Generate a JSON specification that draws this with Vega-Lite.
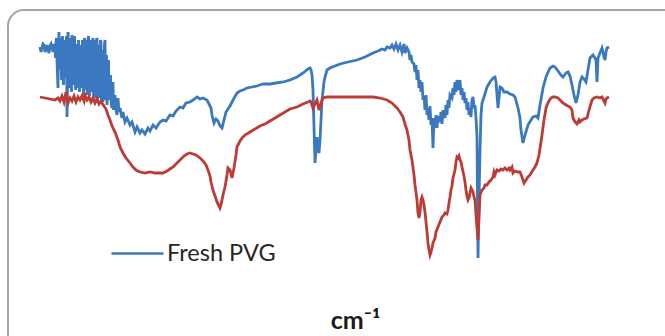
{
"$schema": "https://vega.github.io/schema/vega-lite/v6.json",
"width": 657, "height": 326,
"autosize": {"type": "none"},
"padding": {"left": 8, "top": 10, "right": 0, "bottom": 0},
"background": "white",
"config": {"view": {"stroke": null}, "axisX": {"zindex": 2, "title": "cm⁻¹", "domain": false, "ticks": false, "labels": false, "grid": false, "titlePadding": 0, "titleBaseline": "alphabetic", "titleFont": "Lato", "titleFontSize": 25, "titleFontWeight": "bold", "titleColor": "#1a1a1a", "titleX": 347, "titleY": -8, "titleAlign": "center"}},
"datasets": {
"frame": [{"name": "frame"}],
"spectra": [
{"series":"Fresh PVG","wn":4000,"T":60.6},{"series":"Fresh PVG","wn":3987.5,"T":60.4},{"series":"Fresh PVG","wn":3975,"T":61},{"series":"Fresh PVG","wn":3962.5,"T":60.2},{"series":"Fresh PVG","wn":3950,"T":60},{"series":"Fresh PVG","wn":3937.5,"T":60.8},{"series":"Fresh PVG","wn":3925,"T":60.4},{"series":"Fresh PVG","wn":3912.5,"T":61.2},{"series":"Fresh PVG","wn":3906.25,"T":60},{"series":"Fresh PVG","wn":3900,"T":61.6},{"series":"Fresh PVG","wn":3893.75,"T":58},{"series":"Fresh PVG","wn":3887.5,"T":52.4},{"series":"Fresh PVG","wn":3881.25,"T":63.6},{"series":"Fresh PVG","wn":3875,"T":60},{"series":"Fresh PVG","wn":3868.75,"T":62},{"series":"Fresh PVG","wn":3862.5,"T":61},{"series":"Fresh PVG","wn":3856.25,"T":58.4},{"series":"Fresh PVG","wn":3850,"T":59.6},{"series":"Fresh PVG","wn":3843.75,"T":56.4},{"series":"Fresh PVG","wn":3837.5,"T":60.4},{"series":"Fresh PVG","wn":3831.25,"T":46.6},{"series":"Fresh PVG","wn":3825,"T":63.6},{"series":"Fresh PVG","wn":3818.75,"T":58},{"series":"Fresh PVG","wn":3812.5,"T":52.4},{"series":"Fresh PVG","wn":3806.25,"T":60},{"series":"Fresh PVG","wn":3800,"T":63},{"series":"Fresh PVG","wn":3793.75,"T":57.6},{"series":"Fresh PVG","wn":3787.5,"T":60.4},{"series":"Fresh PVG","wn":3781.25,"T":58.4},{"series":"Fresh PVG","wn":3775,"T":55.6},{"series":"Fresh PVG","wn":3768.75,"T":60},{"series":"Fresh PVG","wn":3762.5,"T":52.4},{"series":"Fresh PVG","wn":3756.25,"T":57.6},{"series":"Fresh PVG","wn":3750,"T":58.4},{"series":"Fresh PVG","wn":3743.75,"T":55},{"series":"Fresh PVG","wn":3737.5,"T":56.4},{"series":"Fresh PVG","wn":3731.25,"T":59},{"series":"Fresh PVG","wn":3718.75,"T":61.6},{"series":"Fresh PVG","wn":3712.5,"T":56},{"series":"Fresh PVG","wn":3706.25,"T":53},{"series":"Fresh PVG","wn":3700,"T":62},{"series":"Fresh PVG","wn":3693.75,"T":57},{"series":"Fresh PVG","wn":3687.5,"T":58},{"series":"Fresh PVG","wn":3681.25,"T":51.6},{"series":"Fresh PVG","wn":3675,"T":59},{"series":"Fresh PVG","wn":3668.75,"T":62.4},{"series":"Fresh PVG","wn":3662.5,"T":56},{"series":"Fresh PVG","wn":3656.25,"T":50.4},{"series":"Fresh PVG","wn":3650,"T":58},{"series":"Fresh PVG","wn":3643.75,"T":62.4},{"series":"Fresh PVG","wn":3637.5,"T":55.6},{"series":"Fresh PVG","wn":3631.25,"T":50.4},{"series":"Fresh PVG","wn":3625,"T":58},{"series":"Fresh PVG","wn":3618.75,"T":61.6},{"series":"Fresh PVG","wn":3612.5,"T":55},{"series":"Fresh PVG","wn":3606.25,"T":49.6},{"series":"Fresh PVG","wn":3600,"T":57},{"series":"Fresh PVG","wn":3593.75,"T":62},{"series":"Fresh PVG","wn":3587.5,"T":54},{"series":"Fresh PVG","wn":3581.25,"T":49},{"series":"Fresh PVG","wn":3575,"T":55.6},{"series":"Fresh PVG","wn":3568.75,"T":52},{"series":"Fresh PVG","wn":3562.5,"T":54},{"series":"Fresh PVG","wn":3556.25,"T":50},{"series":"Fresh PVG","wn":3550,"T":48.4},{"series":"Fresh PVG","wn":3543.75,"T":53.6},{"series":"Fresh PVG","wn":3537.5,"T":50},{"series":"Fresh PVG","wn":3531.25,"T":51},{"series":"Fresh PVG","wn":3525,"T":48},{"series":"Fresh PVG","wn":3518.75,"T":47},{"series":"Fresh PVG","wn":3512.5,"T":50.4},{"series":"Fresh PVG","wn":3506.25,"T":47.6},{"series":"Fresh PVG","wn":3500,"T":48.4},{"series":"Fresh PVG","wn":3487.5,"T":46.4},{"series":"Fresh PVG","wn":3481.25,"T":47.6},{"series":"Fresh PVG","wn":3468.75,"T":45.6},{"series":"Fresh PVG","wn":3456.25,"T":46.4},{"series":"Fresh PVG","wn":3437.5,"T":45},{"series":"Fresh PVG","wn":3425,"T":45.6},{"series":"Fresh PVG","wn":3406.25,"T":43.6},{"series":"Fresh PVG","wn":3393.75,"T":44.6},{"series":"Fresh PVG","wn":3375,"T":43.4},{"series":"Fresh PVG","wn":3362.5,"T":44},{"series":"Fresh PVG","wn":3343.75,"T":43.2},{"series":"Fresh PVG","wn":3325,"T":44.4},{"series":"Fresh PVG","wn":3312.5,"T":43.8},{"series":"Fresh PVG","wn":3293.75,"T":45},{"series":"Fresh PVG","wn":3275,"T":44.4},{"series":"Fresh PVG","wn":3250,"T":45.6},{"series":"Fresh PVG","wn":3231.25,"T":46},{"series":"Fresh PVG","wn":3212.5,"T":45.8},{"series":"Fresh PVG","wn":3187.5,"T":47},{"series":"Fresh PVG","wn":3168.75,"T":46.8},{"series":"Fresh PVG","wn":3150,"T":47.8},{"series":"Fresh PVG","wn":3125,"T":48.6},{"series":"Fresh PVG","wn":3106.25,"T":48.4},{"series":"Fresh PVG","wn":3087.5,"T":49.4},{"series":"Fresh PVG","wn":3062.5,"T":49.6},{"series":"Fresh PVG","wn":3043.75,"T":50},{"series":"Fresh PVG","wn":3018.75,"T":50.6},{"series":"Fresh PVG","wn":3000,"T":50.2},{"series":"Fresh PVG","wn":2981.25,"T":50.4},{"series":"Fresh PVG","wn":2956.25,"T":50},{"series":"Fresh PVG","wn":2943.75,"T":49.2},{"series":"Fresh PVG","wn":2931.25,"T":48.4},{"series":"Fresh PVG","wn":2925,"T":47},{"series":"Fresh PVG","wn":2912.5,"T":45.4},{"series":"Fresh PVG","wn":2900,"T":46.2},{"series":"Fresh PVG","wn":2887.5,"T":45.8},{"series":"Fresh PVG","wn":2875,"T":44.8},{"series":"Fresh PVG","wn":2862.5,"T":44.4},{"series":"Fresh PVG","wn":2850,"T":46},{"series":"Fresh PVG","wn":2837.5,"T":47.6},{"series":"Fresh PVG","wn":2825,"T":48.2},{"series":"Fresh PVG","wn":2812.5,"T":48.8},{"series":"Fresh PVG","wn":2793.75,"T":50},{"series":"Fresh PVG","wn":2768.75,"T":51.4},{"series":"Fresh PVG","wn":2750,"T":51.8},{"series":"Fresh PVG","wn":2731.25,"T":52},{"series":"Fresh PVG","wn":2706.25,"T":52.4},{"series":"Fresh PVG","wn":2675,"T":52.6},{"series":"Fresh PVG","wn":2643.75,"T":52.8},{"series":"Fresh PVG","wn":2606.25,"T":53.2},{"series":"Fresh PVG","wn":2562.5,"T":53.2},{"series":"Fresh PVG","wn":2525,"T":53.4},{"series":"Fresh PVG","wn":2481.25,"T":53.6},{"series":"Fresh PVG","wn":2437.5,"T":54},{"series":"Fresh PVG","wn":2393.75,"T":54.6},{"series":"Fresh PVG","wn":2356.25,"T":55.4},{"series":"Fresh PVG","wn":2325,"T":56.2},{"series":"Fresh PVG","wn":2312.5,"T":56.4},{"series":"Fresh PVG","wn":2306.25,"T":56},{"series":"Fresh PVG","wn":2300,"T":55},{"series":"Fresh PVG","wn":2293.75,"T":52},{"series":"Fresh PVG","wn":2287.5,"T":44.6},{"series":"Fresh PVG","wn":2281.25,"T":37.4},{"series":"Fresh PVG","wn":2275,"T":40},{"series":"Fresh PVG","wn":2268.75,"T":42.6},{"series":"Fresh PVG","wn":2262.5,"T":40},{"series":"Fresh PVG","wn":2256.25,"T":39.4},{"series":"Fresh PVG","wn":2250,"T":42},{"series":"Fresh PVG","wn":2243.75,"T":46},{"series":"Fresh PVG","wn":2237.5,"T":50},{"series":"Fresh PVG","wn":2225,"T":53.6},{"series":"Fresh PVG","wn":2218.75,"T":54.6},{"series":"Fresh PVG","wn":2206.25,"T":56},{"series":"Fresh PVG","wn":2187.5,"T":56.4},{"series":"Fresh PVG","wn":2156.25,"T":56.8},{"series":"Fresh PVG","wn":2125,"T":57.2},{"series":"Fresh PVG","wn":2075,"T":57.6},{"series":"Fresh PVG","wn":2018.75,"T":58},{"series":"Fresh PVG","wn":1968.75,"T":58.6},{"series":"Fresh PVG","wn":1918.75,"T":59.4},{"series":"Fresh PVG","wn":1887.5,"T":59.8},{"series":"Fresh PVG","wn":1862.5,"T":60.2},{"series":"Fresh PVG","wn":1843.75,"T":60},{"series":"Fresh PVG","wn":1831.25,"T":60.6},{"series":"Fresh PVG","wn":1812.5,"T":60.4},{"series":"Fresh PVG","wn":1800,"T":61},{"series":"Fresh PVG","wn":1787.5,"T":60.2},{"series":"Fresh PVG","wn":1775,"T":61.2},{"series":"Fresh PVG","wn":1762.5,"T":60},{"series":"Fresh PVG","wn":1750,"T":61},{"series":"Fresh PVG","wn":1737.5,"T":59.6},{"series":"Fresh PVG","wn":1725,"T":61.2},{"series":"Fresh PVG","wn":1718.75,"T":59.4},{"series":"Fresh PVG","wn":1706.25,"T":60.4},{"series":"Fresh PVG","wn":1693.75,"T":59.6},{"series":"Fresh PVG","wn":1687.5,"T":58},{"series":"Fresh PVG","wn":1681.25,"T":59},{"series":"Fresh PVG","wn":1675,"T":57.6},{"series":"Fresh PVG","wn":1662.5,"T":57.2},{"series":"Fresh PVG","wn":1656.25,"T":55.6},{"series":"Fresh PVG","wn":1650,"T":57},{"series":"Fresh PVG","wn":1643.75,"T":54},{"series":"Fresh PVG","wn":1637.5,"T":56},{"series":"Fresh PVG","wn":1631.25,"T":52.4},{"series":"Fresh PVG","wn":1625,"T":54},{"series":"Fresh PVG","wn":1618.75,"T":51.6},{"series":"Fresh PVG","wn":1612.5,"T":53.6},{"series":"Fresh PVG","wn":1606.25,"T":50},{"series":"Fresh PVG","wn":1600,"T":50.8},{"series":"Fresh PVG","wn":1593.75,"T":48},{"series":"Fresh PVG","wn":1587.5,"T":51},{"series":"Fresh PVG","wn":1581.25,"T":47},{"series":"Fresh PVG","wn":1575,"T":48.4},{"series":"Fresh PVG","wn":1568.75,"T":46},{"series":"Fresh PVG","wn":1562.5,"T":48.8},{"series":"Fresh PVG","wn":1556.25,"T":45},{"series":"Fresh PVG","wn":1550,"T":46.4},{"series":"Fresh PVG","wn":1543.75,"T":40.4},{"series":"Fresh PVG","wn":1537.5,"T":46.4},{"series":"Fresh PVG","wn":1531.25,"T":44.4},{"series":"Fresh PVG","wn":1525,"T":47},{"series":"Fresh PVG","wn":1518.75,"T":44.4},{"series":"Fresh PVG","wn":1512.5,"T":46.8},{"series":"Fresh PVG","wn":1500,"T":45.6},{"series":"Fresh PVG","wn":1493.75,"T":47.6},{"series":"Fresh PVG","wn":1487.5,"T":45.2},{"series":"Fresh PVG","wn":1481.25,"T":48},{"series":"Fresh PVG","wn":1468.75,"T":46.4},{"series":"Fresh PVG","wn":1462.5,"T":49},{"series":"Fresh PVG","wn":1456.25,"T":47},{"series":"Fresh PVG","wn":1450,"T":50},{"series":"Fresh PVG","wn":1443.75,"T":48.4},{"series":"Fresh PVG","wn":1437.5,"T":51},{"series":"Fresh PVG","wn":1425,"T":50.4},{"series":"Fresh PVG","wn":1418.75,"T":52.4},{"series":"Fresh PVG","wn":1412.5,"T":51},{"series":"Fresh PVG","wn":1406.25,"T":53.6},{"series":"Fresh PVG","wn":1400,"T":51.6},{"series":"Fresh PVG","wn":1393.75,"T":54},{"series":"Fresh PVG","wn":1387.5,"T":53},{"series":"Fresh PVG","wn":1381.25,"T":52},{"series":"Fresh PVG","wn":1375,"T":54},{"series":"Fresh PVG","wn":1368.75,"T":51},{"series":"Fresh PVG","wn":1362.5,"T":52.4},{"series":"Fresh PVG","wn":1356.25,"T":50},{"series":"Fresh PVG","wn":1350,"T":51.6},{"series":"Fresh PVG","wn":1343.75,"T":49.4},{"series":"Fresh PVG","wn":1337.5,"T":50.4},{"series":"Fresh PVG","wn":1331.25,"T":48},{"series":"Fresh PVG","wn":1325,"T":49.6},{"series":"Fresh PVG","wn":1318.75,"T":47},{"series":"Fresh PVG","wn":1312.5,"T":48.4},{"series":"Fresh PVG","wn":1306.25,"T":46.6},{"series":"Fresh PVG","wn":1300,"T":50},{"series":"Fresh PVG","wn":1293.75,"T":50.6},{"series":"Fresh PVG","wn":1287.5,"T":48.4},{"series":"Fresh PVG","wn":1281.25,"T":49},{"series":"Fresh PVG","wn":1275,"T":46.4},{"series":"Fresh PVG","wn":1268.75,"T":42.6},{"series":"Fresh PVG","wn":1262.5,"T":18.4},{"series":"Fresh PVG","wn":1256.25,"T":30},{"series":"Fresh PVG","wn":1250,"T":40},{"series":"Fresh PVG","wn":1243.75,"T":47},{"series":"Fresh PVG","wn":1237.5,"T":49.4},{"series":"Fresh PVG","wn":1225,"T":50.6},{"series":"Fresh PVG","wn":1206.25,"T":52.6},{"series":"Fresh PVG","wn":1187.5,"T":53.6},{"series":"Fresh PVG","wn":1168.75,"T":54.4},{"series":"Fresh PVG","wn":1156.25,"T":54.6},{"series":"Fresh PVG","wn":1150,"T":53.6},{"series":"Fresh PVG","wn":1143.75,"T":51},{"series":"Fresh PVG","wn":1137.5,"T":48.4},{"series":"Fresh PVG","wn":1131.25,"T":50.4},{"series":"Fresh PVG","wn":1125,"T":52.6},{"series":"Fresh PVG","wn":1112.5,"T":52.4},{"series":"Fresh PVG","wn":1100,"T":51.6},{"series":"Fresh PVG","wn":1081.25,"T":51.6},{"series":"Fresh PVG","wn":1062.5,"T":51.2},{"series":"Fresh PVG","wn":1043.75,"T":51},{"series":"Fresh PVG","wn":1031.25,"T":50.6},{"series":"Fresh PVG","wn":1012.5,"T":48.4},{"series":"Fresh PVG","wn":1000,"T":46.4},{"series":"Fresh PVG","wn":993.75,"T":44},{"series":"Fresh PVG","wn":981.25,"T":41.4},{"series":"Fresh PVG","wn":968.75,"T":43},{"series":"Fresh PVG","wn":950,"T":45},{"series":"Fresh PVG","wn":931.25,"T":46},{"series":"Fresh PVG","wn":918.75,"T":46.6},{"series":"Fresh PVG","wn":900,"T":46.8},{"series":"Fresh PVG","wn":887.5,"T":46.4},{"series":"Fresh PVG","wn":875,"T":49},{"series":"Fresh PVG","wn":856.25,"T":52.4},{"series":"Fresh PVG","wn":837.5,"T":54.6},{"series":"Fresh PVG","wn":812.5,"T":56.4},{"series":"Fresh PVG","wn":793.75,"T":56.8},{"series":"Fresh PVG","wn":781.25,"T":56.6},{"series":"Fresh PVG","wn":762.5,"T":55.8},{"series":"Fresh PVG","wn":743.75,"T":55},{"series":"Fresh PVG","wn":731.25,"T":54.6},{"series":"Fresh PVG","wn":712.5,"T":55.4},{"series":"Fresh PVG","wn":700,"T":55.6},{"series":"Fresh PVG","wn":687.5,"T":54.8},{"series":"Fresh PVG","wn":675,"T":53},{"series":"Fresh PVG","wn":662.5,"T":51},{"series":"Fresh PVG","wn":650,"T":49.4},{"series":"Fresh PVG","wn":637.5,"T":51},{"series":"Fresh PVG","wn":625,"T":53.6},{"series":"Fresh PVG","wn":612.5,"T":54.6},{"series":"Fresh PVG","wn":600,"T":54.2},{"series":"Fresh PVG","wn":587.5,"T":53.6},{"series":"Fresh PVG","wn":575,"T":56},{"series":"Fresh PVG","wn":562.5,"T":58.4},{"series":"Fresh PVG","wn":550,"T":58.8},{"series":"Fresh PVG","wn":543.75,"T":59},{"series":"Fresh PVG","wn":531.25,"T":58.4},{"series":"Fresh PVG","wn":525,"T":58},{"series":"Fresh PVG","wn":518.75,"T":53.6},{"series":"Fresh PVG","wn":512.5,"T":58.4},{"series":"Fresh PVG","wn":500,"T":59.4},{"series":"Fresh PVG","wn":487.5,"T":60.4},{"series":"Fresh PVG","wn":481.25,"T":59.6},{"series":"Fresh PVG","wn":475,"T":58.6},{"series":"Fresh PVG","wn":468.75,"T":58},{"series":"Fresh PVG","wn":462.5,"T":59.6},{"series":"Fresh PVG","wn":456.25,"T":60.4},{"series":"Fresh PVG","wn":443.75,"T":60.6},
{"series":"Fresh PVG","wn":3993.75,"T":59.6},{"series":"Fresh PVG","wn":3981.25,"T":61.2},{"series":"Fresh PVG","wn":3968.75,"T":59.6},{"series":"Fresh PVG","wn":3956.25,"T":61},{"series":"Fresh PVG","wn":3943.75,"T":59.4},{"series":"Fresh PVG","wn":3931.25,"T":61.2},{"series":"Fresh PVG","wn":3918.75,"T":59.6},
{"series":"Fresh PVG","wn":3903.125,"T":58.4},{"series":"Fresh PVG","wn":3896.875,"T":62.4},{"series":"Fresh PVG","wn":3890.625,"T":55},{"series":"Fresh PVG","wn":3884.375,"T":61},{"series":"Fresh PVG","wn":3878.125,"T":56},{"series":"Fresh PVG","wn":3871.875,"T":62.4},{"series":"Fresh PVG","wn":3865.625,"T":54},{"series":"Fresh PVG","wn":3859.375,"T":62.8},{"series":"Fresh PVG","wn":3853.125,"T":53},{"series":"Fresh PVG","wn":3846.875,"T":62},{"series":"Fresh PVG","wn":3840.625,"T":54.4},{"series":"Fresh PVG","wn":3834.375,"T":62.8},{"series":"Fresh PVG","wn":3828.125,"T":52},{"series":"Fresh PVG","wn":3821.875,"T":61},{"series":"Fresh PVG","wn":3815.625,"T":53.6},{"series":"Fresh PVG","wn":3809.375,"T":62.4},{"series":"Fresh PVG","wn":3803.125,"T":51.6},{"series":"Fresh PVG","wn":3796.875,"T":61.6},{"series":"Fresh PVG","wn":3790.625,"T":53},{"series":"Fresh PVG","wn":3784.375,"T":62.8},{"series":"Fresh PVG","wn":3778.125,"T":52},{"series":"Fresh PVG","wn":3771.875,"T":61.2},{"series":"Fresh PVG","wn":3765.625,"T":54},{"series":"Fresh PVG","wn":3759.375,"T":62},{"series":"Fresh PVG","wn":3753.125,"T":51.6},{"series":"Fresh PVG","wn":3746.875,"T":61},{"series":"Fresh PVG","wn":3740.625,"T":52.4},{"series":"Fresh PVG","wn":3734.375,"T":62},{"series":"Fresh PVG","wn":3728.125,"T":51},{"series":"Fresh PVG","wn":3721.875,"T":62.4},{"series":"Fresh PVG","wn":3715.625,"T":52},{"series":"Fresh PVG","wn":3709.375,"T":62},{"series":"Fresh PVG","wn":3703.125,"T":51},{"series":"Fresh PVG","wn":3696.875,"T":62.8},{"series":"Fresh PVG","wn":3690.625,"T":50.8},{"series":"Fresh PVG","wn":3684.375,"T":62},{"series":"Fresh PVG","wn":3678.125,"T":56},{"series":"Fresh PVG","wn":3671.875,"T":61.6},{"series":"Fresh PVG","wn":3665.625,"T":50.8},{"series":"Fresh PVG","wn":3659.375,"T":62},{"series":"Fresh PVG","wn":3653.125,"T":53},{"series":"Fresh PVG","wn":3646.875,"T":62},{"series":"Fresh PVG","wn":3640.625,"T":50},{"series":"Fresh PVG","wn":3634.375,"T":61},{"series":"Fresh PVG","wn":3628.125,"T":54},{"series":"Fresh PVG","wn":3621.875,"T":62},{"series":"Fresh PVG","wn":3615.625,"T":50},{"series":"Fresh PVG","wn":3609.375,"T":60},{"series":"Fresh PVG","wn":3603.125,"T":53},{"series":"Fresh PVG","wn":3596.875,"T":61},{"series":"Fresh PVG","wn":3590.625,"T":50},{"series":"Fresh PVG","wn":3584.375,"T":59},{"series":"Fresh PVG","wn":3578.125,"T":51},{"series":"Fresh PVG","wn":3571.875,"T":58},{"series":"Fresh PVG","wn":3565.625,"T":50},{"series":"Fresh PVG","wn":3559.375,"T":55},{"series":"Fresh PVG","wn":3553.125,"T":49},{"series":"Fresh PVG","wn":3546.875,"T":53},{"series":"Fresh PVG","wn":3540.625,"T":48},
{"series":"Used PVG","wn":4000,"T":50.6},{"series":"Used PVG","wn":3968.75,"T":50.4},{"series":"Used PVG","wn":3937.5,"T":50.2},{"series":"Used PVG","wn":3906.25,"T":50},{"series":"Used PVG","wn":3887.5,"T":50.4},{"series":"Used PVG","wn":3875,"T":49.8},{"series":"Used PVG","wn":3862.5,"T":50.8},{"series":"Used PVG","wn":3850,"T":49.6},{"series":"Used PVG","wn":3843.75,"T":50.6},{"series":"Used PVG","wn":3837.5,"T":51.6},{"series":"Used PVG","wn":3831.25,"T":50.2},{"series":"Used PVG","wn":3825,"T":49.4},{"series":"Used PVG","wn":3812.5,"T":50.4},{"series":"Used PVG","wn":3800,"T":49.8},{"series":"Used PVG","wn":3787.5,"T":50.8},{"series":"Used PVG","wn":3775,"T":49.6},{"series":"Used PVG","wn":3762.5,"T":50.6},{"series":"Used PVG","wn":3750,"T":50},{"series":"Used PVG","wn":3737.5,"T":50.8},{"series":"Used PVG","wn":3725,"T":49.8},{"series":"Used PVG","wn":3718.75,"T":51},{"series":"Used PVG","wn":3706.25,"T":50},{"series":"Used PVG","wn":3693.75,"T":50.6},{"series":"Used PVG","wn":3681.25,"T":49.6},{"series":"Used PVG","wn":3668.75,"T":50.4},{"series":"Used PVG","wn":3656.25,"T":49.4},{"series":"Used PVG","wn":3643.75,"T":50.2},{"series":"Used PVG","wn":3631.25,"T":49.2},{"series":"Used PVG","wn":3618.75,"T":49.8},{"series":"Used PVG","wn":3612.5,"T":49.4},{"series":"Used PVG","wn":3600,"T":48.8},{"series":"Used PVG","wn":3587.5,"T":48.2},{"series":"Used PVG","wn":3575,"T":47},{"series":"Used PVG","wn":3562.5,"T":46},{"series":"Used PVG","wn":3550,"T":44.8},{"series":"Used PVG","wn":3531.25,"T":43.6},{"series":"Used PVG","wn":3512.5,"T":42},{"series":"Used PVG","wn":3500,"T":40.6},{"series":"Used PVG","wn":3481.25,"T":39.4},{"series":"Used PVG","wn":3462.5,"T":38.4},{"series":"Used PVG","wn":3437.5,"T":37.4},{"series":"Used PVG","wn":3418.75,"T":36.6},{"series":"Used PVG","wn":3400,"T":36},{"series":"Used PVG","wn":3375,"T":35.6},{"series":"Used PVG","wn":3343.75,"T":35.4},{"series":"Used PVG","wn":3312.5,"T":35.6},{"series":"Used PVG","wn":3281.25,"T":35.4},{"series":"Used PVG","wn":3250,"T":35.4},{"series":"Used PVG","wn":3231.25,"T":35.4},{"series":"Used PVG","wn":3206.25,"T":35.8},{"series":"Used PVG","wn":3187.5,"T":36.2},{"series":"Used PVG","wn":3168.75,"T":36.6},{"series":"Used PVG","wn":3143.75,"T":37.4},{"series":"Used PVG","wn":3125,"T":38},{"series":"Used PVG","wn":3100,"T":38.8},{"series":"Used PVG","wn":3081.25,"T":39.2},{"series":"Used PVG","wn":3062.5,"T":39.4},{"series":"Used PVG","wn":3043.75,"T":39.2},{"series":"Used PVG","wn":3025,"T":39},{"series":"Used PVG","wn":3000,"T":38.4},{"series":"Used PVG","wn":2981.25,"T":37.8},{"series":"Used PVG","wn":2962.5,"T":37},{"series":"Used PVG","wn":2950,"T":36},{"series":"Used PVG","wn":2937.5,"T":34.8},{"series":"Used PVG","wn":2931.25,"T":33.6},{"series":"Used PVG","wn":2918.75,"T":32},{"series":"Used PVG","wn":2906.25,"T":30.8},{"series":"Used PVG","wn":2893.75,"T":29.6},{"series":"Used PVG","wn":2881.25,"T":28.8},{"series":"Used PVG","wn":2875,"T":28.4},{"series":"Used PVG","wn":2868.75,"T":29},{"series":"Used PVG","wn":2856.25,"T":31},{"series":"Used PVG","wn":2843.75,"T":32.6},{"series":"Used PVG","wn":2831.25,"T":35},{"series":"Used PVG","wn":2825,"T":36.4},{"series":"Used PVG","wn":2812.5,"T":36},{"series":"Used PVG","wn":2800,"T":34.4},{"series":"Used PVG","wn":2787.5,"T":36.4},{"series":"Used PVG","wn":2775,"T":39},{"series":"Used PVG","wn":2768.75,"T":40.6},{"series":"Used PVG","wn":2750,"T":41.8},{"series":"Used PVG","wn":2731.25,"T":42.6},{"series":"Used PVG","wn":2718.75,"T":43},{"series":"Used PVG","wn":2687.5,"T":43.6},{"series":"Used PVG","wn":2656.25,"T":44.2},{"series":"Used PVG","wn":2625,"T":44.8},{"series":"Used PVG","wn":2593.75,"T":45.2},{"series":"Used PVG","wn":2562.5,"T":45.8},{"series":"Used PVG","wn":2531.25,"T":46.4},{"series":"Used PVG","wn":2500,"T":47},{"series":"Used PVG","wn":2468.75,"T":47.6},{"series":"Used PVG","wn":2437.5,"T":48.2},{"series":"Used PVG","wn":2393.75,"T":48.6},{"series":"Used PVG","wn":2356.25,"T":49.2},{"series":"Used PVG","wn":2325,"T":49.6},{"series":"Used PVG","wn":2312.5,"T":49.8},{"series":"Used PVG","wn":2306.25,"T":49.6},{"series":"Used PVG","wn":2293.75,"T":48.4},{"series":"Used PVG","wn":2281.25,"T":49.2},{"series":"Used PVG","wn":2268.75,"T":50},{"series":"Used PVG","wn":2256.25,"T":48},{"series":"Used PVG","wn":2243.75,"T":49.4},{"series":"Used PVG","wn":2231.25,"T":50.4},{"series":"Used PVG","wn":2206.25,"T":50.6},{"series":"Used PVG","wn":2168.75,"T":50.6},{"series":"Used PVG","wn":2125,"T":50.6},{"series":"Used PVG","wn":2062.5,"T":50.6},{"series":"Used PVG","wn":2000,"T":50.6},{"series":"Used PVG","wn":1918.75,"T":50.6},{"series":"Used PVG","wn":1875,"T":50.4},{"series":"Used PVG","wn":1831.25,"T":50},{"series":"Used PVG","wn":1800,"T":49.4},{"series":"Used PVG","wn":1768.75,"T":48.4},{"series":"Used PVG","wn":1750,"T":47.6},{"series":"Used PVG","wn":1731.25,"T":46.6},{"series":"Used PVG","wn":1718.75,"T":45.2},{"series":"Used PVG","wn":1706.25,"T":44},{"series":"Used PVG","wn":1693.75,"T":42},{"series":"Used PVG","wn":1687.5,"T":40},{"series":"Used PVG","wn":1675,"T":38},{"series":"Used PVG","wn":1662.5,"T":35},{"series":"Used PVG","wn":1656.25,"T":33},{"series":"Used PVG","wn":1643.75,"T":30},{"series":"Used PVG","wn":1637.5,"T":27.4},{"series":"Used PVG","wn":1631.25,"T":26.4},{"series":"Used PVG","wn":1625,"T":27.6},{"series":"Used PVG","wn":1618.75,"T":30},{"series":"Used PVG","wn":1612.5,"T":30.6},{"series":"Used PVG","wn":1606.25,"T":30},{"series":"Used PVG","wn":1600,"T":29},{"series":"Used PVG","wn":1593.75,"T":27.6},{"series":"Used PVG","wn":1587.5,"T":25.6},{"series":"Used PVG","wn":1581.25,"T":23.6},{"series":"Used PVG","wn":1575,"T":21.4},{"series":"Used PVG","wn":1568.75,"T":20},{"series":"Used PVG","wn":1562.5,"T":19},{"series":"Used PVG","wn":1556.25,"T":19.6},{"series":"Used PVG","wn":1550,"T":20.4},{"series":"Used PVG","wn":1543.75,"T":21.4},{"series":"Used PVG","wn":1531.25,"T":22.4},{"series":"Used PVG","wn":1525,"T":23.6},{"series":"Used PVG","wn":1512.5,"T":24.6},{"series":"Used PVG","wn":1500,"T":25.6},{"series":"Used PVG","wn":1487.5,"T":26.6},{"series":"Used PVG","wn":1475,"T":27},{"series":"Used PVG","wn":1468.75,"T":27.4},{"series":"Used PVG","wn":1456.25,"T":27.2},{"series":"Used PVG","wn":1450,"T":28},{"series":"Used PVG","wn":1443.75,"T":29.4},{"series":"Used PVG","wn":1437.5,"T":30.6},{"series":"Used PVG","wn":1431.25,"T":32},{"series":"Used PVG","wn":1425,"T":32.8},{"series":"Used PVG","wn":1418.75,"T":34.4},{"series":"Used PVG","wn":1406.25,"T":36},{"series":"Used PVG","wn":1400,"T":37.6},{"series":"Used PVG","wn":1393.75,"T":38.6},{"series":"Used PVG","wn":1387.5,"T":38.4},{"series":"Used PVG","wn":1381.25,"T":38.8},{"series":"Used PVG","wn":1375,"T":38},{"series":"Used PVG","wn":1368.75,"T":37.6},{"series":"Used PVG","wn":1362.5,"T":36.6},{"series":"Used PVG","wn":1350,"T":34.8},{"series":"Used PVG","wn":1343.75,"T":33.6},{"series":"Used PVG","wn":1337.5,"T":32},{"series":"Used PVG","wn":1331.25,"T":30.8},{"series":"Used PVG","wn":1325,"T":30},{"series":"Used PVG","wn":1318.75,"T":30.4},{"series":"Used PVG","wn":1312.5,"T":31.4},{"series":"Used PVG","wn":1306.25,"T":32.4},{"series":"Used PVG","wn":1300,"T":32},{"series":"Used PVG","wn":1293.75,"T":31.6},{"series":"Used PVG","wn":1287.5,"T":30.6},{"series":"Used PVG","wn":1281.25,"T":30},{"series":"Used PVG","wn":1275,"T":27},{"series":"Used PVG","wn":1268.75,"T":24.4},{"series":"Used PVG","wn":1262.5,"T":22},{"series":"Used PVG","wn":1256.25,"T":26.4},{"series":"Used PVG","wn":1250,"T":31},{"series":"Used PVG","wn":1243.75,"T":31.6},{"series":"Used PVG","wn":1237.5,"T":32},{"series":"Used PVG","wn":1225,"T":32.4},{"series":"Used PVG","wn":1218.75,"T":33},{"series":"Used PVG","wn":1206.25,"T":33},{"series":"Used PVG","wn":1193.75,"T":33.6},{"series":"Used PVG","wn":1181.25,"T":34},{"series":"Used PVG","wn":1168.75,"T":34.6},{"series":"Used PVG","wn":1162.5,"T":35.6},{"series":"Used PVG","wn":1156.25,"T":35},{"series":"Used PVG","wn":1143.75,"T":36},{"series":"Used PVG","wn":1131.25,"T":35.8},{"series":"Used PVG","wn":1118.75,"T":36.2},{"series":"Used PVG","wn":1106.25,"T":36},{"series":"Used PVG","wn":1093.75,"T":36.4},{"series":"Used PVG","wn":1081.25,"T":36},{"series":"Used PVG","wn":1068.75,"T":36.4},{"series":"Used PVG","wn":1062.5,"T":36},{"series":"Used PVG","wn":1050,"T":36.6},{"series":"Used PVG","wn":1043.75,"T":35.4},{"series":"Used PVG","wn":1031.25,"T":35.8},{"series":"Used PVG","wn":1012.5,"T":35.6},{"series":"Used PVG","wn":1000,"T":35.6},{"series":"Used PVG","wn":987.5,"T":34.6},{"series":"Used PVG","wn":975,"T":33.4},{"series":"Used PVG","wn":962.5,"T":34},{"series":"Used PVG","wn":950,"T":34.6},{"series":"Used PVG","wn":937.5,"T":35},{"series":"Used PVG","wn":918.75,"T":36},{"series":"Used PVG","wn":906.25,"T":36.6},{"series":"Used PVG","wn":893.75,"T":37.4},{"series":"Used PVG","wn":881.25,"T":39},{"series":"Used PVG","wn":868.75,"T":41.6},{"series":"Used PVG","wn":862.5,"T":43},{"series":"Used PVG","wn":850,"T":46},{"series":"Used PVG","wn":837.5,"T":48.4},{"series":"Used PVG","wn":831.25,"T":49},{"series":"Used PVG","wn":818.75,"T":49.8},{"series":"Used PVG","wn":806.25,"T":50.4},{"series":"Used PVG","wn":793.75,"T":50.6},{"series":"Used PVG","wn":781.25,"T":50.6},{"series":"Used PVG","wn":762.5,"T":50.4},{"series":"Used PVG","wn":750,"T":50},{"series":"Used PVG","wn":731.25,"T":49.4},{"series":"Used PVG","wn":712.5,"T":49},{"series":"Used PVG","wn":687.5,"T":48.6},{"series":"Used PVG","wn":675,"T":48},{"series":"Used PVG","wn":668.75,"T":46.4},{"series":"Used PVG","wn":656.25,"T":45.6},{"series":"Used PVG","wn":643.75,"T":45.2},{"series":"Used PVG","wn":631.25,"T":46},{"series":"Used PVG","wn":625,"T":45.6},{"series":"Used PVG","wn":612.5,"T":46},{"series":"Used PVG","wn":600,"T":46.2},{"series":"Used PVG","wn":581.25,"T":46.4},{"series":"Used PVG","wn":568.75,"T":48},{"series":"Used PVG","wn":550,"T":50},{"series":"Used PVG","wn":537.5,"T":50.4},{"series":"Used PVG","wn":518.75,"T":50.6},{"series":"Used PVG","wn":500,"T":50.4},{"series":"Used PVG","wn":487.5,"T":50.6},{"series":"Used PVG","wn":481.25,"T":50.2},{"series":"Used PVG","wn":468.75,"T":49.4},{"series":"Used PVG","wn":462.5,"T":50.2},{"series":"Used PVG","wn":456.25,"T":50.4},{"series":"Used PVG","wn":443.75,"T":50.6}
]
},
"layer": [
{
"data": {"name": "frame"},
"mark": {"type": "rect", "fill": "white", "stroke": "#a6a6a6", "strokeWidth": 2, "cornerRadius": 16, "clip": false},
"encoding": {
"x": {"datum": 4200, "type": "quantitative", "scale": {"domain": [4200, 93.75], "nice": false, "zero": false}, "axis": {"title": "cm⁻¹", "zindex": 2}},
"x2": {"datum": -1000},
"y": {"datum": 68, "type": "quantitative", "scale": {"domain": [2.8, 68], "nice": false, "zero": false}, "axis": null},
"y2": {"datum": -30}
}
},
{
"data": {"name": "spectra"},
"transform": [{"filter": "datum.series === 'Fresh PVG'"}],
"mark": {"type": "line", "strokeWidth": 2.8, "clip": false},
"encoding": {
"x": {"field": "wn", "type": "quantitative", "axis": {"title": "cm⁻¹", "zindex": 2}},
"y": {"field": "T", "type": "quantitative", "axis": null},
"color": {"field": "series", "type": "nominal", "scale": {"domain": ["Fresh PVG", "Used PVG"], "range": ["#3a78bf", "#bd3b34"]},
"legend": {"values": ["Fresh PVG"], "title": null, "orient": "none", "legendX": 102, "legendY": 216, "padding": 0, "symbolType": "stroke", "symbolSize": 2704, "symbolStrokeWidth": 2.5, "labelFont": "Lato", "labelFontSize": 23.5, "labelColor": "#262626", "labelOffset": 2}}
}
},
{
"data": {"name": "spectra"},
"transform": [{"filter": "datum.series === 'Used PVG'"}],
"mark": {"type": "line", "strokeWidth": 2.8, "clip": false},
"encoding": {
"x": {"field": "wn", "type": "quantitative", "axis": {"title": "cm⁻¹", "zindex": 2}},
"y": {"field": "T", "type": "quantitative", "axis": null},
"color": {"field": "series", "type": "nominal"}
}
}
]
}
